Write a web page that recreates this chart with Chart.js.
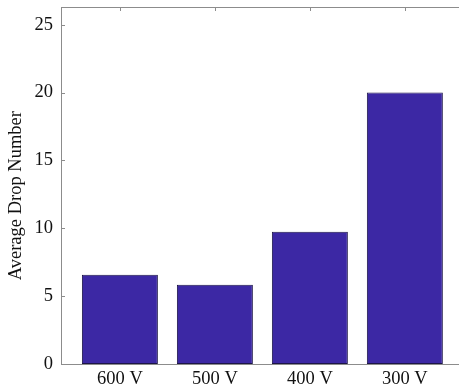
<!DOCTYPE html>
<html>
<head>
<meta charset="utf-8">
<script src="https://cdn.jsdelivr.net/npm/chart.js@4/dist/chart.umd.min.js"></script>
<style>
  html, body { margin: 0; padding: 0; background: #fff; overflow: hidden; }
  #wrap { width: 459px; height: 389px; }
</style>
</head>
<body>
<div id="wrap"><canvas id="c" width="459" height="389"></canvas></div>
<script>
// voltages on the x axis
const categories = ['600 V', '500 V', '400 V', '300 V']
const dropNumbers = [6.57, 5.83, 9.75, 20.0]
const yTicks = [0, 5, 10, 15, 20, 25]

const AXIS_GRAY = '#8c8c8c'
const FONT = { family: '"Liberation Serif", "DejaVu Serif", serif', size: 18.5 }

// box top line + inward ticks (MATLAB look) + y title centred on data range
const boxPlugin = {
  id: 'box',
  afterDraw (chart) {
    const { ctx, chartArea: a, scales } = chart
    ctx.save()
    ctx.strokeStyle = AXIS_GRAY
    ctx.lineWidth = 1
    ctx.beginPath()
    ctx.moveTo(a.left, a.top + 0.5)
    ctx.lineTo(a.right, a.top + 0.5)
    // left ticks
    yTicks.forEach(v => {
      const y = Math.round(scales.y.getPixelForValue(v)) + 0.5
      ctx.moveTo(a.left, y)
      ctx.lineTo(a.left + 4, y)
    })
    // top ticks
    categories.forEach((_, i) => {
      const x = Math.round(scales.x.getPixelForValue(i + 1)) + 0.5
      ctx.moveTo(x, a.top)
      ctx.lineTo(x, a.top + 4)
    })
    ctx.stroke()

    ctx.fillStyle = '#111'
    ctx.font = `${FONT.size}px ${FONT.family}`
    ctx.textAlign = 'center'
    ctx.textBaseline = 'middle'
    ctx.translate(16, scales.y.getPixelForValue(12.4))
    ctx.rotate(-Math.PI / 2)
    ctx.fillText('Average Drop Number', 0, 0)
    ctx.restore()
  }
}

new Chart(document.getElementById('c'), {
  type: 'bar',
  data: {
    datasets: [{
      data: dropNumbers.map((v, i) => ({ x: i + 1, y: v })),
      backgroundColor: '#3c28a4',
      borderColor: '#1c1548',
      borderWidth: 1,
      borderSkipped: false,
      categoryPercentage: 1,
      barPercentage: 0.8
    }]
  },
  options: {
    responsive: false,
    animation: false,
    layout: { padding: { top: 7, right: 0, left: 0, bottom: 0 } },
    plugins: { legend: { display: false }, tooltip: { enabled: false } },
    scales: {
      x: {
        type: 'linear',
        min: 0.38,
        max: 4.57,
        offset: false,
        afterBuildTicks: s => { s.ticks = categories.map((_, i) => ({ value: i + 1 })) },
        afterFit: s => {
          s.height = 25
          s.paddingLeft = 0
          s.paddingRight = 0
        },
        grid: { display: false, drawTicks: false },
        border: { color: AXIS_GRAY, width: 1 },
        ticks: {
          color: '#111',
          font: FONT,
          padding: 4,
          maxRotation: 0,
          autoSkip: false,
          callback: v => categories[v - 1] ?? ''
        }
      },
      y: {
        min: 0,
        max: 26.3,
        afterBuildTicks: s => { s.ticks = yTicks.map(v => ({ value: v })) },
        afterFit: s => {
          s.width = 61
          s.paddingTop = 0
          s.paddingBottom = 0
        },
        grid: { display: false, drawTicks: false },
        border: { color: AXIS_GRAY, width: 1 },
        ticks: { color: '#111', font: FONT, padding: 8 }
      }
    }
  },
  plugins: [boxPlugin]
})
</script>
</body>
</html>
